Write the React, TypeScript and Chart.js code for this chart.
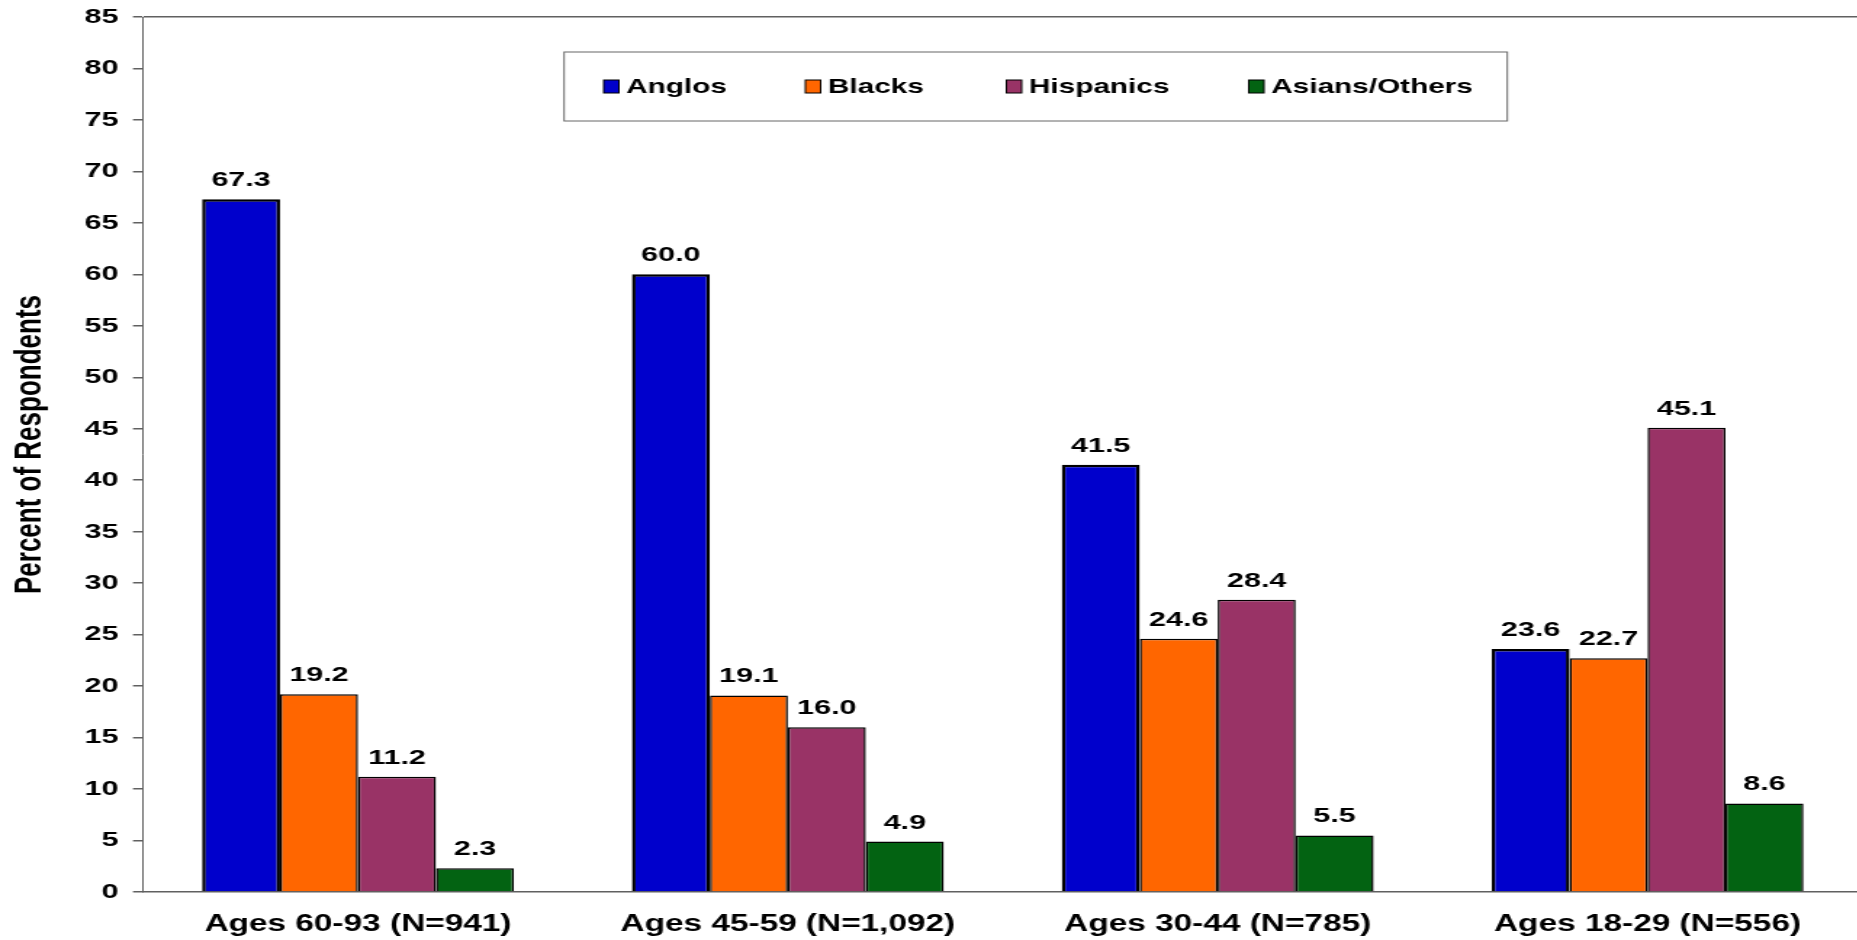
import React, { useEffect, useRef } from 'react';
import { Chart, registerables } from 'chart.js';

Chart.register(...registerables);

// ---- Data ----
const categories = [
  'Ages 60-93 (N=941)',
  'Ages 45-59 (N=1,092)',
  'Ages 30-44 (N=785)',
  'Ages 18-29 (N=556)',
];
const seriesNames = ['Anglos', 'Blacks', 'Hispanics', 'Asians/Others'];
const anglos = [67.3, 60.0, 41.5, 23.6];
const blacks = [19.2, 19.1, 24.6, 22.7];
const hispanics = [11.2, 16.0, 28.4, 45.1];
const asians = [2.3, 4.9, 5.5, 8.6];
const yMin = 0;
const yMax = 85;
const yStep = 5;
const yTitle = 'Percent of Respondents';

// ---- Styles ----
const seriesColors = ['#0000CC', '#FF6600', '#993366', '#036312'];
const seriesBorderWidths = [2.5, 1.5, 1.5, 1.5];
const FONT = '"Liberation Sans", Arial, Helvetica, sans-serif';
const AXIS_COLOR = '#606060';

// The reference is drawn horizontally stretched: render narrower, stretch with CSS.
const BASE_W = 1280;
const STRETCH = 1857 / BASE_W;
const CANVAS_W = 1290;
const CANVAS_H = 940;

const legendBox = { x: 388.7, y: 52, w: 650, h: 69 };
const legendItemX = [416, 555, 693.5, 860.5];

const boxLegendPlugin = {
  id: 'boxLegend',
  afterDraw(chart: any) {
    const ctx = chart.ctx as CanvasRenderingContext2D;
    ctx.save();
    ctx.strokeStyle = '#666666';
    ctx.lineWidth = 1;
    ctx.strokeRect(legendBox.x, legendBox.y, legendBox.w, legendBox.h);
    const cy = legendBox.y + legendBox.h / 2;
    chart.data.datasets.forEach((ds: any, i: number) => {
      const x = legendItemX[i];
      ctx.fillStyle = ds.backgroundColor;
      ctx.fillRect(x, cy - 6.5, 10.5, 13);
      ctx.strokeStyle = '#000';
      ctx.lineWidth = 1;
      ctx.strokeRect(x, cy - 6.5, 10.5, 13);
      ctx.fillStyle = '#000';
      ctx.font = `bold 20.5px ${FONT}`;
      ctx.textAlign = 'left';
      ctx.textBaseline = 'middle';
      ctx.fillText(ds.label, x + 15.5, cy + 1);
    });
    ctx.restore();
  },
};

const yTitlePlugin = {
  id: 'yTitle',
  afterDraw(chart: any) {
    const ctx = chart.ctx as CanvasRenderingContext2D;
    const area = chart.chartArea;
    ctx.save();
    ctx.translate(20.4, (area.top + area.bottom) / 2 - 10);
    ctx.rotate(-Math.PI / 2);
    ctx.fillStyle = '#000';
    ctx.font = `bold 26px ${FONT}`;
    ctx.textAlign = 'center';
    ctx.textBaseline = 'middle';
    ctx.fillText(yTitle, 0, 0);
    ctx.restore();
  },
};

const valueLabelPlugin = {
  id: 'valueLabels',
  afterDatasetsDraw(chart: any) {
    const ctx = chart.ctx as CanvasRenderingContext2D;
    ctx.save();
    ctx.fillStyle = '#000';
    ctx.font = `bold 21px ${FONT}`;
    ctx.textAlign = 'center';
    ctx.textBaseline = 'alphabetic';
    chart.data.datasets.forEach((ds: any, i: number) => {
      const meta = chart.getDatasetMeta(i);
      meta.data.forEach((el: any, j: number) => {
        const v = ds.data[j] as number;
        ctx.fillText(v.toFixed(1), el.x, el.y - 13);
      });
    });
    ctx.restore();
  },
};

export default function App() {
  const ref = useRef<HTMLCanvasElement>(null);

  useEffect(() => {
    document.body.style.margin = '0';
    const canvas = ref.current;
    if (!canvas) return;
    const values = [anglos, blacks, hispanics, asians];
    const chart = new Chart(canvas, {
      type: 'bar',
      data: {
        labels: categories,
        datasets: seriesNames.map((name, i) => ({
          label: name,
          data: values[i],
          backgroundColor: seriesColors[i],
          borderColor: '#000000',
          borderWidth: seriesBorderWidths[i],
          categoryPercentage: 0.7256,
          barPercentage: 1,
        })),
      },
      options: {
        responsive: false,
        animation: false,
        devicePixelRatio: 1,
        layout: { padding: { top: 17, right: 6.6, bottom: 0, left: 0 } },
        plugins: {
          legend: { display: false },
          tooltip: { enabled: false },
          title: { display: false },
        },
        scales: {
          x: {
            grid: { display: true, color: 'rgba(0,0,0,0)', drawTicks: false },
            border: { display: true, color: AXIS_COLOR, width: 1.5 },
            ticks: {
              color: '#000',
              font: { family: FONT, size: 23, weight: 'bold' },
              padding: 18.5,
              maxRotation: 0,
              autoSkip: false,
            },
            afterFit: (s: any) => {
              s.height = 48;
            },
          },
          y: {
            min: yMin,
            max: yMax,
            ticks: {
              stepSize: yStep,
              color: '#000',
              font: { family: FONT, size: 21, weight: 'bold' },
              padding: 10,
            },
            grid: {
              color: (c: any) => (c.tick && c.tick.value === yMax ? AXIS_COLOR : 'rgba(0,0,0,0)'),
              tickColor: AXIS_COLOR,
              tickLength: 7,
              lineWidth: 1.5,
            },
            border: { display: true, color: AXIS_COLOR, width: 1 },
            title: { display: false },
            afterFit: (s: any) => {
              s.width = 98.6;
              s.paddingTop = 0;
              s.paddingBottom = 0;
            },
          },
        },
      },
      plugins: [valueLabelPlugin, boxLegendPlugin, yTitlePlugin],
    });
    return () => chart.destroy();
  }, []);

  return (
    <div style={{ width: '1857px', height: '940px', overflow: 'hidden', position: 'relative', background: '#fff' }}>
      <canvas
        ref={ref}
        width={CANVAS_W}
        height={CANVAS_H}
        style={{ width: `${CANVAS_W * STRETCH}px`, height: `${CANVAS_H}px`, display: 'block' }}
      />
    </div>
  );
}
